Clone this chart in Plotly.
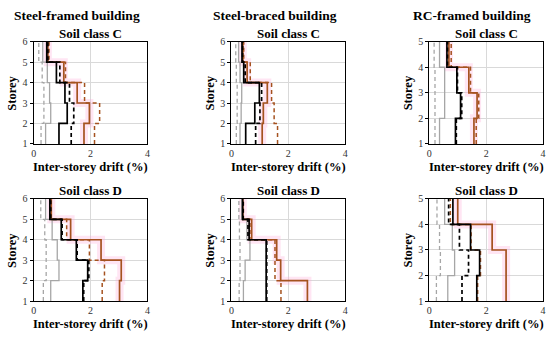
import plotly.graph_objects as go

# ---- data: inter-storey drift (%) per storey (bottom -> top) ----
panel_titles = ["Soil class C", "Soil class C", "Soil class C",
                "Soil class D", "Soil class D", "Soil class D"]
building_titles = ["Steel-framed building", "Steel-braced building", "RC-framed building"]
x_tick_vals = [0, 2, 4]

# Steel-framed, soil C
sf_c_gray_dash  = [0.26, 0.36, 0.36, 0.30, 0.18]
sf_c_gray_solid = [0.42, 0.60, 0.56, 0.48, 0.32]
sf_c_blk_solid  = [0.89, 1.18, 1.10, 0.80, 0.46]
sf_c_blk_dash   = [1.32, 1.41, 1.26, 0.92, 0.50]
sf_c_brn_solid  = [1.77, 1.96, 1.53, 1.06, 0.50]
sf_c_brn_dash   = [2.14, 2.32, 1.79, 1.12, 0.54]
# Steel-braced, soil C
sb_c_gray_dash  = [0.17, 0.20, 0.20, 0.17, 0.15]
sb_c_gray_solid = [0.30, 0.34, 0.36, 0.30, 0.25]
sb_c_blk_solid  = [0.50, 0.82, 0.98, 0.43, 0.37]
sb_c_blk_dash   = [0.85, 1.00, 1.06, 0.48, 0.39]
sb_c_brn_solid  = [1.08, 1.12, 1.26, 0.55, 0.40]
sb_c_brn_dash   = [1.62, 1.50, 1.41, 0.66, 0.43]
# RC-framed, soil C
rc_c_gray_dash  = [0.20, 0.20, 0.20, 0.17]
rc_c_gray_solid = [0.36, 0.54, 0.54, 0.36]
rc_c_blk_solid  = [0.92, 1.10, 0.97, 0.62]
rc_c_blk_dash   = [0.95, 1.14, 0.99, 0.64]
rc_c_brn_solid  = [1.57, 1.68, 1.39, 0.69]
rc_c_brn_dash   = [1.65, 1.74, 1.45, 0.77]
# Steel-framed, soil D
sf_d_gray_dash  = [0.34, 0.44, 0.44, 0.39, 0.25]
sf_d_gray_solid = [0.60, 0.89, 0.83, 0.65, 0.42]
sf_d_blk_solid  = [1.73, 1.90, 1.50, 0.97, 0.57]
sf_d_blk_dash   = [1.76, 1.94, 1.53, 1.00, 0.60]
sf_d_brn_solid  = [3.02, 3.08, 2.37, 1.30, 0.62]
sf_d_brn_dash   = [2.41, 2.49, 1.96, 1.16, 0.60]
# Steel-braced, soil D
sb_d_gray_dash  = [0.27, 0.30, 0.30, 0.28, 0.26]
sb_d_gray_solid = [0.42, 0.48, 0.65, 0.54, 0.36]
sb_d_blk_solid  = [1.22, 1.22, 1.22, 0.62, 0.39]
sb_d_blk_dash   = [1.24, 1.24, 1.24, 0.58, 0.41]
sb_d_brn_solid  = [2.67, 1.73, 1.59, 0.71, 0.40]
sb_d_brn_dash   = [1.74, 1.53, 1.53, 0.65, 0.42]
# RC-framed, soil D
rc_d_gray_dash  = [0.25, 0.39, 0.36, 0.27]
rc_d_gray_solid = [0.65, 0.89, 0.81, 0.54]
rc_d_blk_solid  = [1.67, 1.77, 1.45, 0.83]
rc_d_blk_dash   = [1.15, 1.38, 1.06, 0.68]
rc_d_brn_solid  = [2.70, 2.70, 2.21, 1.00]
rc_d_brn_dash   = [1.70, 1.80, 1.47, 0.74]

panels = [
    [sf_c_gray_dash, sf_c_gray_solid, sf_c_blk_solid, sf_c_blk_dash, sf_c_brn_solid, sf_c_brn_dash],
    [sb_c_gray_dash, sb_c_gray_solid, sb_c_blk_solid, sb_c_blk_dash, sb_c_brn_solid, sb_c_brn_dash],
    [rc_c_gray_dash, rc_c_gray_solid, rc_c_blk_solid, rc_c_blk_dash, rc_c_brn_solid, rc_c_brn_dash],
    [sf_d_gray_dash, sf_d_gray_solid, sf_d_blk_solid, sf_d_blk_dash, sf_d_brn_solid, sf_d_brn_dash],
    [sb_d_gray_dash, sb_d_gray_solid, sb_d_blk_solid, sb_d_blk_dash, sb_d_brn_solid, sb_d_brn_dash],
    [rc_d_gray_dash, rc_d_gray_solid, rc_d_blk_solid, rc_d_blk_dash, rc_d_brn_solid, rc_d_brn_dash],
]

W, H = 550, 337
xdom_px = [(31, 146), (231, 346), (431, 546)]
ydom_px = [(37, 143), (200, 306)]

GRAY = "#a6a6a6"
BROWN = "#a5521f"
SERIF = "Liberation Serif"

fig = go.Figure()

def step(vals):
    xs = list(vals) + [vals[-1]]
    ys = list(range(1, len(vals) + 2))
    return xs, ys

styles = [  # (index in panel list, color, width, dash)
    (0, GRAY, 1.3, "4px,3px"),
    (1, GRAY, 1.3, "solid"),
    (5, BROWN, 1.5, "4px,3px"),
    (4, BROWN, 1.7, "solid"),
    (2, "black", 1.7, "solid"),
    (3, "black", 1.7, "4px,3px"),
]

for i, series in enumerate(panels):
    ax = "" if i == 0 else str(i + 1)
    xa, ya = "x" + ax, "y" + ax
    hx, hy = step(series[4])
    fig.add_trace(go.Scatter(x=hx, y=hy, mode="lines", line_shape="vh",
                             line=dict(color="rgba(255,170,215,0.3)", width=8),
                             xaxis=xa, yaxis=ya, showlegend=False, hoverinfo="skip"))
    for idx, col, wid, dash in styles:
        sx, sy = step(series[idx])
        fig.add_trace(go.Scatter(x=sx, y=sy, mode="lines", line_shape="vh",
                                 line=dict(color=col, width=wid, dash=dash),
                                 xaxis=xa, yaxis=ya, showlegend=False))

annotations = []
layout = dict(width=W, height=H, margin=dict(l=0, r=0, t=0, b=0),
              paper_bgcolor="white", plot_bgcolor="white", showlegend=False)

for i, series in enumerate(panels):
    col, row = i % 3, i // 3
    n = len(series[0])
    x0, x1 = xdom_px[col]
    y0, y1 = ydom_px[row]
    ax = "" if i == 0 else str(i + 1)
    layout["xaxis" + ax] = dict(
        domain=[x0 / W, x1 / W], anchor="y" + ax, range=[0, 4],
        tickvals=x_tick_vals, showgrid=True, gridcolor="#d9d9d9", gridwidth=1,
        showline=True, linecolor="black", linewidth=1.3, mirror=True,
        ticks="",
        tickfont=dict(family=SERIF, size=10, color="#333333"), zeroline=False)
    layout["yaxis" + ax] = dict(
        domain=[1 - y1 / H, 1 - y0 / H], anchor="x" + ax, range=[1, n + 1],
        dtick=1, showgrid=True, gridcolor="#d9d9d9", gridwidth=1,
        showline=True, linecolor="black", linewidth=1.3, mirror=True,
        ticks="outside", ticklen=3, tickcolor="black",
        tickfont=dict(family=SERIF, size=10, color="#333333"), zeroline=False)
    cx = (x0 + x1) / 2
    annotations.append(dict(text="<b>" + panel_titles[i] + "</b>", x=cx / W, y=1 - (y0 - 9) / H,
                            xref="paper", yref="paper", showarrow=False,
                            xanchor="center", yanchor="middle",
                            font=dict(family=SERIF, size=13, color="black")))
    annotations.append(dict(text="<b>Inter-storey drift (%)</b>", x=cx / W, y=1 - (y1 + 24) / H,
                            xref="paper", yref="paper", showarrow=False,
                            xanchor="center", yanchor="middle",
                            font=dict(family=SERIF, size=12.5, color="black")))
    annotations.append(dict(text="<b>Storey</b>", x=(x0 - 22) / W, y=1 - ((y0 + y1) / 2) / H,
                            xref="paper", yref="paper", showarrow=False, textangle=-90,
                            xanchor="center", yanchor="middle",
                            font=dict(family=SERIF, size=12.5, color="black")))

for col, t in enumerate(building_titles):
    x0, x1 = xdom_px[col]
    cx = (x0 + x1) / 2 - 14
    annotations.append(dict(text="<b>" + t + "</b>", x=cx / W, y=1 - 10 / H,
                            xref="paper", yref="paper", showarrow=False,
                            xanchor="center", yanchor="middle",
                            font=dict(family=SERIF, size=13.5, color="black")))

layout["annotations"] = annotations
fig.update_layout(**layout)
fig.write_html("out.html", config={"displayModeBar": False},
               post_script="document.body.style.margin='0';document.body.style.padding='0';")
